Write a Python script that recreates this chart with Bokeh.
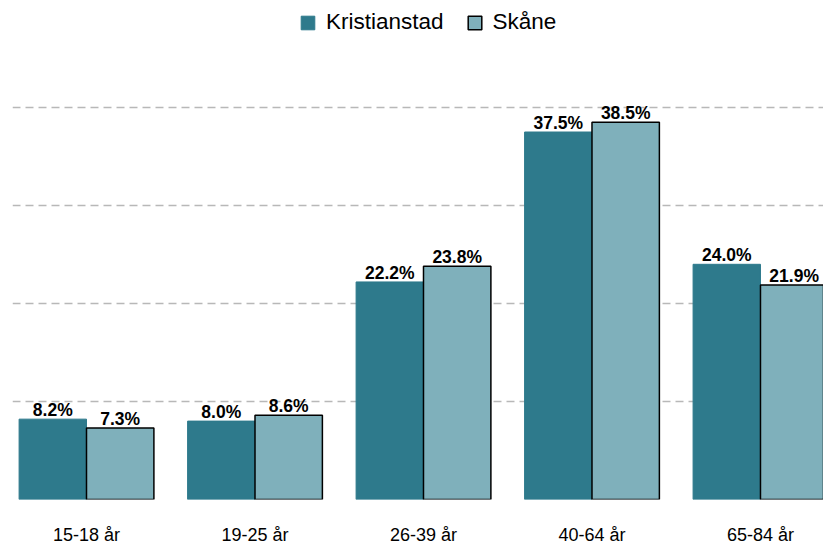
from bokeh.plotting import figure
from bokeh.models import ColumnDataSource, Range1d, FixedTicker, Legend, LegendItem
from bokeh.core.properties import value
from bokeh.embed import file_html
from bokeh.resources import INLINE

categories = ["15-18 år", "19-25 år", "26-39 år", "40-64 år", "65-84 år"]
kristianstad = [8.2, 8.0, 22.2, 37.5, 24.0]
skane = [7.3, 8.6, 23.8, 38.5, 21.9]
series_names = ["Kristianstad", "Skåne"]
grid_ticks = [0, 10, 20, 30, 40]

FONT = "Liberation Sans"
C1 = "#2e7a8c"
C2 = "#7fb0bb"

centers = [i + 0.5 for i in range(len(categories))]
src1 = ColumnDataSource(dict(x=[c - 0.2 for c in centers], top=kristianstad,
                             lab=[f"{v:.1f}%" for v in kristianstad]))
src2 = ColumnDataSource(dict(x=[c + 0.2 for c in centers], top=skane,
                             lab=[f"{v:.1f}%" for v in skane]))

p = figure(frame_width=811, frame_height=499, output_backend="svg", toolbar_location=None,
           x_range=Range1d(0.0608, 4.874), y_range=Range1d(0, 50.92),
           min_border_left=12, min_border_right=0, min_border_top=0, min_border_bottom=0)
p.outline_line_color = None
p.background_fill_color = "white"
p.border_fill_color = "white"

r1 = p.vbar(x="x", top="top", width=0.4, source=src1, fill_color=C1, line_color=C1, line_width=1)
r2 = p.vbar(x="x", top="top", width=0.4, source=src2, fill_color=C2, line_color="black", line_width=1.5)

for s in (src1, src2):
    p.text(x="x", y="top", text="lab", source=s, text_align="center", text_baseline="bottom",
           y_offset=1, text_font=value(FONT), text_font_style="bold", text_font_size="17.5px",
           text_color="black")

p.yaxis.visible = False
p.ygrid.ticker = FixedTicker(ticks=grid_ticks)
p.ygrid.grid_line_color = "#b8b8b8"
p.ygrid.grid_line_width = 1.5
p.ygrid.grid_line_dash = "8 5"
p.xgrid.visible = False

p.xaxis.ticker = FixedTicker(ticks=centers)
p.xaxis.major_label_overrides = {c: lab for c, lab in zip(centers, categories)}
p.xaxis.axis_line_color = None
p.xaxis.major_tick_line_color = None
p.xaxis.minor_tick_line_color = None
p.xaxis.major_tick_out = 0
p.xaxis.major_tick_in = 0
p.xaxis.axis_label_standoff = 0
p.xaxis.major_label_standoff = 25
p.xaxis.major_label_text_font = FONT
p.xaxis.major_label_text_font_size = "18px"
p.xaxis.major_label_text_color = "black"

legend = Legend(items=[LegendItem(label=series_names[0], renderers=[r1]),
                       LegendItem(label=series_names[1], renderers=[r2])],
                orientation="horizontal", location=(287, 464),
                glyph_width=17, glyph_height=17, label_standoff=10, spacing=22,
                padding=5, margin=0, border_line_color=None, background_fill_alpha=0,
                label_text_font=FONT, label_text_font_size="22.5px", label_text_color="black")
p.add_layout(legend)

open("out.html", "w").write(file_html(p, INLINE))
